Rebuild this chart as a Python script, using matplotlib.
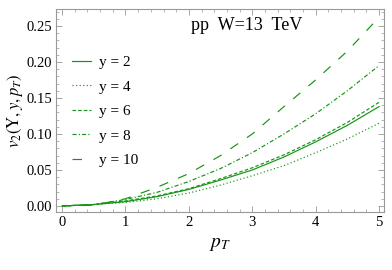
"""v2(Y, y, pT) for pp at W = 13 TeV, several rapidities."""
import matplotlib
matplotlib.use("Agg")
import matplotlib.pyplot as plt
from matplotlib.ticker import MultipleLocator, FormatStrFormatter

pt = [0.0, 0.5, 1.0, 1.5, 2.0, 2.5, 3.0, 3.5, 4.0, 4.5, 5.0]
v2_y2 = [0.0, 0.002, 0.006, 0.013, 0.023, 0.036, 0.050, 0.068, 0.089, 0.112, 0.138]
v2_y4 = [0.0, 0.002, 0.005, 0.010, 0.018, 0.029, 0.042, 0.056, 0.074, 0.093, 0.115]
v2_y6 = [0.0, 0.002, 0.007, 0.014, 0.024, 0.038, 0.053, 0.071, 0.092, 0.116, 0.144]
v2_y8 = [0.0, 0.002, 0.009, 0.019, 0.034, 0.052, 0.074, 0.100, 0.128, 0.160, 0.195]
v2_y10 = [0.0, 0.001, 0.010, 0.026, 0.045, 0.070, 0.100, 0.138, 0.175, 0.215, 0.262]
labels = ["y = 2", "y = 4", "y = 6", "y = 8", "y = 10"]

plt.rcParams["font.family"] = ["Liberation Serif", "DejaVu Serif"]
plt.rcParams["mathtext.fontset"] = "stix"

green = "#149414"
styles = ["-", (0, (1, 2)), (0, (3, 1.8)), (0, (3.5, 1.8, 1, 1.8)), (0, (8, 9))]
series = [v2_y2, v2_y4, v2_y6, v2_y8, v2_y10]

fig = plt.figure(figsize=(3.92, 2.70), dpi=100)
ax = fig.add_axes([0.143, 0.215, 0.837, 0.752])

for vals, ls, lab in zip(series, styles, labels):
    ax.plot(pt, vals, color=green, lw=0.85, ls=ls, label=lab)

ax.set_xlim(-0.095, 5.08)
ax.set_ylim(-0.0083, 0.2736)
ax.xaxis.set_major_locator(MultipleLocator(1))
ax.xaxis.set_minor_locator(MultipleLocator(0.2))
ax.yaxis.set_major_locator(MultipleLocator(0.05))
ax.yaxis.set_minor_locator(MultipleLocator(0.01))
ax.yaxis.set_major_formatter(FormatStrFormatter("%.2f"))
ax.tick_params(which="both", direction="in", top=True, right=True,
               color="#999999", labelsize=10.5, pad=3)
ax.tick_params(which="major", length=4, width=0.6)
ax.tick_params(which="minor", length=2, width=0.5)
for s in ax.spines.values():
    s.set_color("#999999")
    s.set_linewidth(0.8)

ax.set_xlabel(r"$p_T$", fontsize=14, labelpad=5)
ax.set_ylabel(r"$v_2(\mathrm{Y},y,p_T)$", fontsize=12, labelpad=1)
ax.text(0.58, 0.92, "pp  W=13  TeV", transform=ax.transAxes,
        fontsize=13, ha="center", va="center")

ax.legend(loc="upper left", bbox_to_anchor=(0.01, 0.83), frameon=False,
          fontsize=11, handlelength=1.25, handletextpad=0.55,
          labelspacing=0.7, borderaxespad=0.4)

fig.savefig("out.png", dpi=100)
